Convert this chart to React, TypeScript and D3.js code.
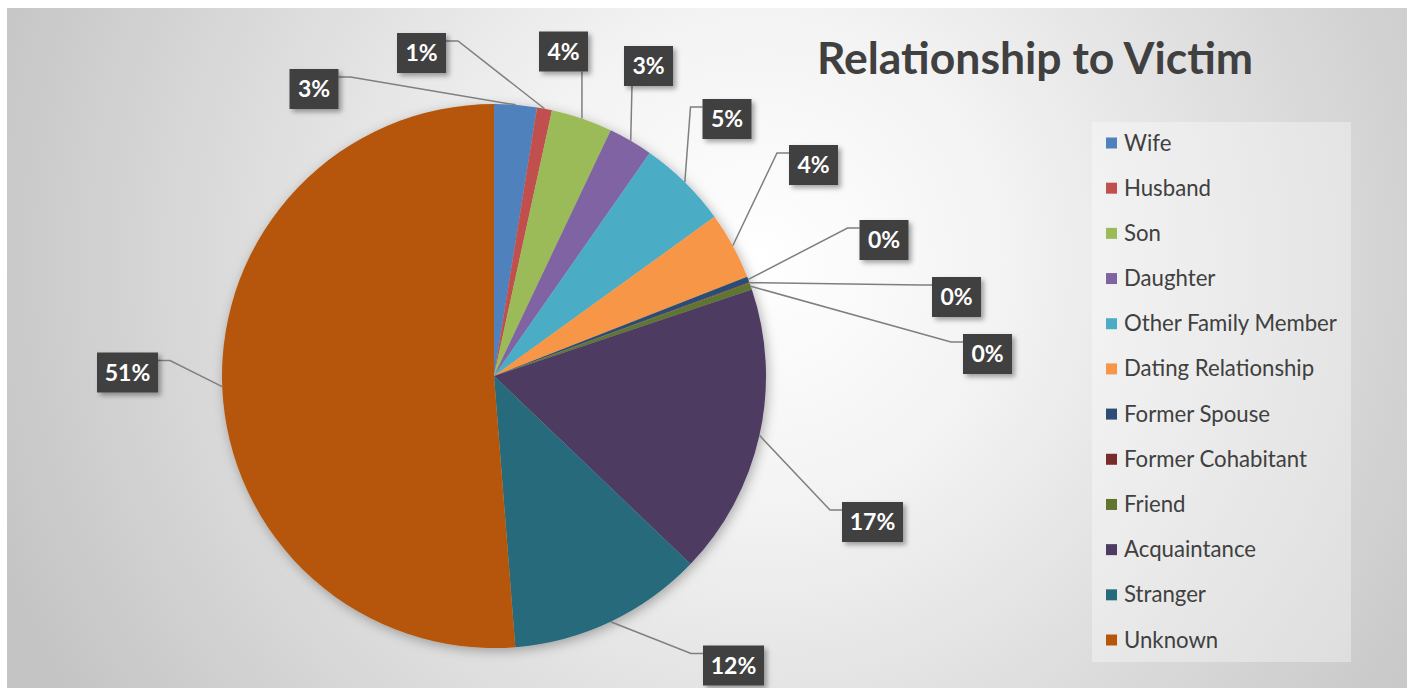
import React, { useEffect } from 'react';
import * as d3 from 'd3';

const categories = [
  'Wife', 'Husband', 'Son', 'Daughter', 'Other Family Member', 'Dating Relationship',
  'Former Spouse', 'Former Cohabitant', 'Friend', 'Acquaintance', 'Stranger', 'Unknown',
];
const values = [2.53, 0.89, 3.64, 2.64, 5.35, 4.0, 0.35, 0.05, 0.4, 17.3, 11.6, 51.25];
const colors = [
  '#4f81bd', '#c0504d', '#9bbb59', '#8064a2', '#4bacc6', '#f79646',
  '#2c4d75', '#772c2a', '#5f7530', '#4d3b62', '#276a7c', '#b65708',
];
const title = 'Relationship to Victim';

// label box layout: centre x, centre y, side the leader line attaches to
const labelLayout: [number, number, string][] = [
  [314, 89, 'r'], [421.5, 53, 'r'], [563.5, 51.5, 'b'], [648.5, 66, 'b'],
  [727, 119, 'l'], [813.5, 165, 'l'], [884, 240, 'l'], [956.5, 297, 'l'],
  [987.5, 354, 'l'], [872.5, 522, 'l'], [733.5, 665.5, 'l'], [127.5, 372.5, 'r'],
];

const W = 1414, H = 688;
const CX = 494, CY = 376, R = 272;
const FONT = 'Lato, "Open Sans", sans-serif';

export default function App() {
  useEffect(() => {
    document.body.style.margin = '0';
  }, []);

  const total = d3.sum(values);
  const pie = d3.pie<number>().sort(null).value(d => d)(values);
  const arc = d3.arc<d3.PieArcDatum<number>>().innerRadius(0).outerRadius(R);

  const legendY = d3.scalePoint<string>().domain(categories).range([143, 640]);

  return (
    <svg width={W} height={H} style={{ display: 'block' }} fontFamily={FONT}>
      <defs>
        <radialGradient id="bg" gradientUnits="userSpaceOnUse" cx={760} cy={260} r={820}>
          <stop offset="0" stopColor="#ffffff" />
          <stop offset="0.3" stopColor="#f3f3f3" />
          <stop offset="1" stopColor="#c4c4c4" />
        </radialGradient>
        <filter id="pieShadow" x="-20%" y="-20%" width="140%" height="140%">
          <feDropShadow dx="2" dy="3" stdDeviation="6" floodColor="#000" floodOpacity="0.3" />
        </filter>
        <filter id="boxShadow" x="-30%" y="-30%" width="160%" height="160%">
          <feDropShadow dx="3" dy="3" stdDeviation="2.5" floodColor="#000" floodOpacity="0.35" />
        </filter>
      </defs>
      <rect x={0} y={0} width={W} height={H} fill="#ffffff" />
      <rect x={7} y={8} width={1400} height={H - 8} fill="url(#bg)" />

      <g transform={`translate(${CX},${CY})`} filter="url(#pieShadow)">
        {pie.map((d, i) => (
          <path key={categories[i]} d={arc(d) || ''} fill={colors[i]} />
        ))}
      </g>

      {/* leader lines */}
      <g stroke="#7f7f7f" strokeWidth={1.5} fill="none">
        {pie.map((d, i) => {
          const a = (d.startAngle + d.endAngle) / 2;
          const px = CX + R * Math.sin(a);
          const py = CY - R * Math.cos(a);
          const [lx, ly, side] = labelLayout[i];
          const txt = Math.round((values[i] / total) * 100) + '%';
          const bw = 25 + 12 * txt.length;
          const bh = 40;
          const left = lx - bw / 2, right = lx + bw / 2, top = ly - bh / 2, bottom = ly + bh / 2;
          let pts: [number, number][];
          if (side === 'b') {
            const ax = Math.max(left + 8, Math.min(right - 6, px));
            pts = [[px, py], [ax, bottom]];
          } else if (side === 'l') {
            pts = [[px, py], [left - 12, top + 8], [left, top + 8]];
          } else {
            pts = [[px, py], [right + 12, top + 8], [right, top + 8]];
          }
          return <path key={i} d={d3.line()(pts) || ''} />;
        })}
      </g>

      {/* data labels */}
      {pie.map((d, i) => {
        const [lx, ly] = labelLayout[i];
        const txt = Math.round((values[i] / total) * 100) + '%';
        const bw = 25 + 12 * txt.length;
        const bh = 40;
        return (
          <g key={i}>
            <rect x={lx - bw / 2} y={ly - bh / 2} width={bw} height={bh} fill="#404040" filter="url(#boxShadow)" />
            <text x={lx} y={ly + 8} textAnchor="middle" fill="#ffffff" fontSize={23} fontWeight="bold">{txt}</text>
          </g>
        );
      })}

      <text x={1035} y={74} textAnchor="middle" fill="#404040" fontSize={44.5} fontWeight="bold">{title}</text>

      {/* legend */}
      <rect x={1092} y={122} width={259} height={540} fill="#ffffff" fillOpacity={0.35} />
      {categories.map((c, i) => {
        const y = legendY(c) as number;
        return (
          <g key={c}>
            <rect x={1106} y={y - 5.5} width={11} height={11} fill={colors[i]} />
            <text x={1124} y={y + 7.5} fill="#404040" fontSize={22.2}>{c}</text>
          </g>
        );
      })}
    </svg>
  );
}
